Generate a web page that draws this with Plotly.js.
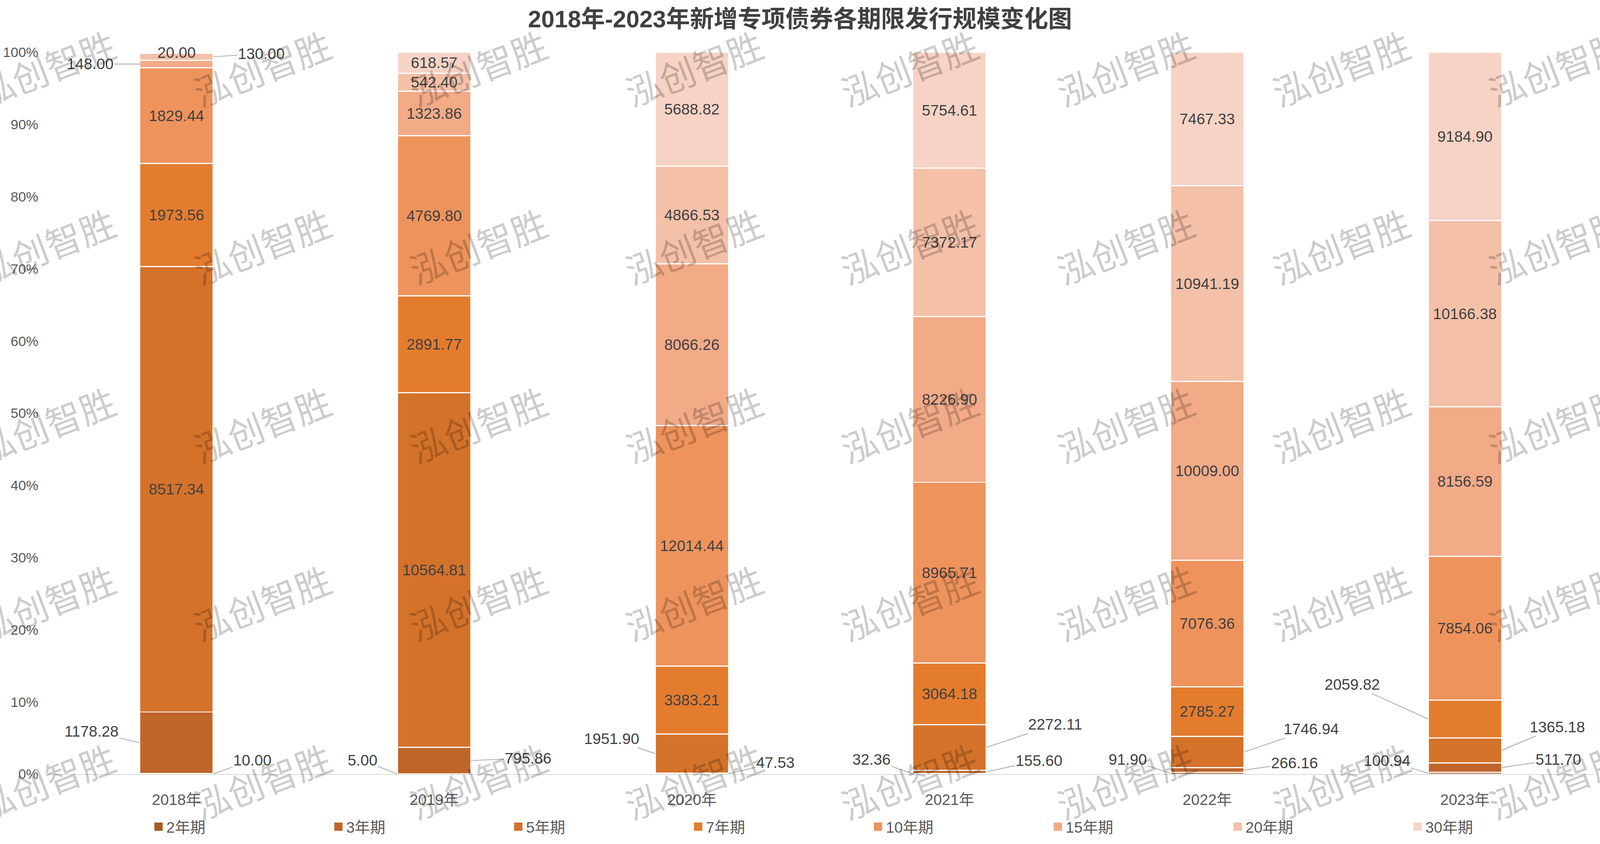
<!DOCTYPE html>
<html>
<head>
<meta charset="utf-8">
<script src="https://cdn.plot.ly/plotly-3.0.1.min.js"></script>
<style>html,body{margin:0;padding:0;background:#fff;overflow:hidden;}#chart{position:absolute;left:0;top:0;}</style>
</head>
<body>
<div id="chart"></div>
<script>
// ---------- data ----------
const years = ['2018年', '2019年', '2020年', '2021年', '2022年', '2023年'];
const seriesNames = ['2年期', '3年期', '5年期', '7年期', '10年期', '15年期', '20年期', '30年期'];
const term2 = [10.00, 5.00, null, 32.36, 91.90, 100.94];
const term3 = [1178.28, 795.86, 47.53, 155.60, 266.16, 511.70];
const term5 = [8517.34, 10564.81, 1951.90, 2272.11, 1746.94, 1365.18];
const term7 = [1973.56, 2891.77, 3383.21, 3064.18, 2785.27, 2059.82];
const term10 = [1829.44, 4769.80, 12014.44, 8965.71, 7076.36, 7854.06];
const term15 = [148.00, 1323.86, 8066.26, 8226.90, 10009.00, 8156.59];
const term20 = [130.00, 542.40, 4866.53, 7372.17, 10941.19, 10166.38];
const term30 = [20.00, 618.57, 5688.82, 5754.61, 7467.33, 9184.90];
const seriesValues = [term2, term3, term5, term7, term10, term15, term20, term30];
const watermarkText = '泓创智胜';

// ---------- style (designed in reference pixels, scaled to the viewport) ----------
const REF_W = 4486, REF_H = 2161;
const vw = document.documentElement.clientWidth || window.innerWidth || REF_W;
const vh = window.innerHeight || document.documentElement.clientHeight || REF_H;
const W = vw, H = vh;
const kx = W / REF_W, ky = H / REF_H, kf = Math.sqrt(kx * ky);
const colors = ['#A95A20', '#C0652A', '#D4722A', '#E47C2E', '#EE935C', '#F2AA87', '#F4C0A8', '#F7D3C5'];
const FONT = 'Liberation Sans, Arial, "Noto Sans CJK SC", sans-serif';
const M = {l: 134 * kx, r: 17 * kx, t: 134 * ky, b: 173 * ky};
const plotW = W - M.l - M.r, plotH = H - M.t - M.b;
const BAR_W = 0.285;

// labels placed outside the bar with a leader line: series index, year index, side, offset (ref px)
const outsideLabels = [
  {s: 0, c: 0, side: 'R', ax: 110, ay: -35},
  {s: 1, c: 0, side: 'L', ax: -135, ay: -29},
  {s: 5, c: 0, side: 'L', ax: -139, ay: 0},
  {s: 6, c: 0, side: 'R', ax: 135, ay: -8},
  {s: 7, c: 0, side: 'TOP'},
  {s: 0, c: 1, side: 'L', ax: -98, ay: -35},
  {s: 1, c: 1, side: 'R', ax: 160, ay: -6},
  {s: 1, c: 2, side: 'R', ax: 131, ay: -28},
  {s: 2, c: 2, side: 'L', ax: -122, ay: -38},
  {s: 0, c: 3, side: 'L', ax: -116, ay: -37},
  {s: 1, c: 3, side: 'R', ax: 148, ay: -29},
  {s: 2, c: 3, side: 'R', ax: 193, ay: -59},
  {s: 0, c: 4, side: 'L', ax: -120, ay: -35},
  {s: 1, c: 4, side: 'R', ax: 142, ay: -18},
  {s: 2, c: 4, side: 'R', ax: 189, ay: -59},
  {s: 0, c: 5, side: 'L', ax: -115, ay: -32},
  {s: 1, c: 5, side: 'R', ax: 159, ay: -21},
  {s: 2, c: 5, side: 'R', ax: 156, ay: -60},
  {s: 3, c: 5, side: 'L', ax: -213, ay: -88}
];

const fmt = v => (v === null || v === undefined) ? '' : v.toFixed(2);
const isOutside = (s, c) => outsideLabels.some(o => o.s === s && o.c === c);
const labelFont = {family: FONT, size: 41 * kf, color: '#404040'};

const traces = seriesNames.map((name, s) => ({
  type: 'bar',
  name: name,
  x: years,
  y: seriesValues[s],
  text: seriesValues[s].map(fmt),
  texttemplate: '%{text}',
  textposition: seriesValues[s].map((v, c) => (v === null || isOutside(s, c)) ? 'none' : 'inside'),
  insidetextanchor: 'middle',
  textangle: 0,
  constraintext: 'none',
  insidetextfont: labelFont,
  marker: {color: colors[s], line: {color: '#FFFFFF', width: 3 * kf}},
  hoverinfo: 'name+y'
}));

const totals = years.map((_, c) => seriesValues.reduce((a, arr) => a + (arr[c] || 0), 0));
function midPercent(s, c) {
  let below = 0;
  for (let k = 0; k < s; k++) below += (seriesValues[k][c] || 0);
  return (below + (seriesValues[s][c] || 0) / 2) / totals[c] * 100;
}

const annotations = [];
outsideLabels.forEach(o => {
  const txt = fmt(seriesValues[o.s][o.c]);
  if (o.side === 'TOP') {
    annotations.push({
      xref: 'x', yref: 'y', x: o.c, y: 100, text: txt, showarrow: false,
      xanchor: 'center', yanchor: 'middle', font: labelFont
    });
  } else {
    annotations.push({
      xref: 'x', yref: 'y',
      x: o.c + (o.side === 'L' ? -BAR_W / 2 : BAR_W / 2),
      y: midPercent(o.s, o.c),
      text: txt, showarrow: true, arrowhead: 0, arrowwidth: 2 * kf, arrowcolor: '#A6A6A6',
      standoff: 0, ax: o.ax * kx, ay: o.ay * ky, font: labelFont
    });
  }
});

// watermark grid (ref px centres)
for (let j = 0; j < 5; j++) {
  for (let i = 0; i < 8; i++) {
    const px = (130 + 605 * i) * kx, py = (172 + 458 * j) * ky;
    annotations.push({
      xref: 'paper', yref: 'paper',
      x: (px - M.l) / plotW, y: (H - M.b - py) / plotH,
      xanchor: 'center', yanchor: 'middle',
      text: watermarkText, showarrow: false, textangle: -21,
      font: {family: '"Noto Sans CJK SC", sans-serif', size: 96 * kf, color: 'rgba(0,0,0,0.2)'}
    });
  }
}

const layout = {
  width: W, height: H,
  margin: M,
  paper_bgcolor: '#FFFFFF', plot_bgcolor: '#FFFFFF',
  barmode: 'stack', barnorm: 'percent', bargap: 1 - BAR_W,
  title: {
    text: '<b>2018年-2023年新增专项债券各期限发行规模变化图</b>',
    font: {family: FONT, size: 64 * kf, color: '#404040'},
    x: 0.5, xref: 'container', xanchor: 'center',
    y: 1 - 49 / REF_H, yref: 'container', yanchor: 'middle'
  },
  xaxis: {
    type: 'category', showgrid: false, zeroline: false,
    showline: true, linecolor: '#D9D9D9', linewidth: 2 * kf,
    ticks: '', ticklabelstandoff: Math.round(30 * ky),
    tickfont: {family: FONT, size: 41 * kf, color: '#595959'}
  },
  yaxis: {
    range: [0, 100], dtick: 10, tick0: 0, ticksuffix: '%',
    showgrid: false, zeroline: false, showline: false, ticks: '',
    ticklabelstandoff: Math.round(25 * kx),
    tickfont: {family: FONT, size: 37 * kf, color: '#595959'}
  },
  showlegend: true,
  legend: {
    orientation: 'h', traceorder: 'normal',
    x: (423 * kx - M.l) / plotW, xanchor: 'left',
    y: (H - M.b - 2123 * ky) / plotH, yanchor: 'middle',
    entrywidth: 455 * kx, entrywidthmode: 'pixels',
    font: {family: FONT, size: 41 * kf, color: '#595959'},
    bgcolor: 'rgba(0,0,0,0)'
  },
  annotations: annotations
};

Plotly.newPlot('chart', traces, layout, {displayModeBar: false, responsive: false}).then(function () {
  // enlarge the legend squares to the reference size
  document.querySelectorAll('.legend .legendpoints path').forEach(function (p) {
    const t = p.getAttribute('transform') || '';
    p.setAttribute('transform', t + ' scale(' + (1.85 * kf).toFixed(3) + ')');
    p.style.strokeWidth = '0';
  });
});
</script>
</body>
</html>
